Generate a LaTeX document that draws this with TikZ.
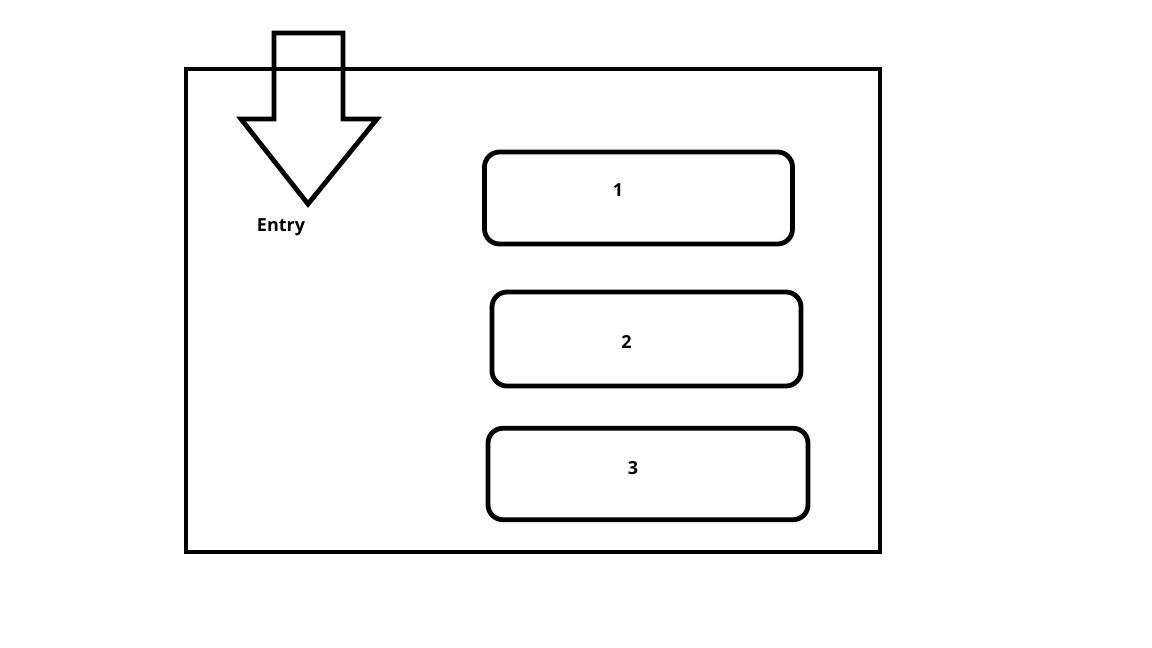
\documentclass[tikz,border=0pt]{standalone}
\usepackage{fontspec}
\setmainfont{Open Sans}
\tikzset{
  slot/.style={draw, rounded corners=15pt, line width=4.8pt, minimum width=#1, inner sep=0pt},
  lbl/.style={font=\fontsize{18}{21}\selectfont\bfseries, anchor=base, inner sep=0pt}
}
\begin{document}
\begin{tikzpicture}[x=1pt, y=-1pt]
\useasboundingbox (0,0) rectangle (1152,648);
\node[draw, line width=4.8pt, minimum width=694pt, minimum height=483pt, inner sep=0pt] (frame) at (533,310.5){};
\draw[line width=4.8pt] (274,33) -- (343,33) -- (343,119) -- (377,119) -- (308,204) -- (241,119) -- (274,119) -- cycle;
\node[lbl] (entry) at (281,231.5){Entry};
\node[slot=308pt, minimum height=92pt] (box1) at (638.5,198){};
\node[slot=309pt, minimum height=94pt] (box2) at (646.5,339){};
\node[slot=320pt, minimum height=91.5pt] (box3) at (648,474){};
\node[lbl] (num1) at (618,196){1};
\node[lbl] (num2) at (626.5,348){2};
\node[lbl] (num3) at (633,474){3};
\end{tikzpicture}
\end{document}
